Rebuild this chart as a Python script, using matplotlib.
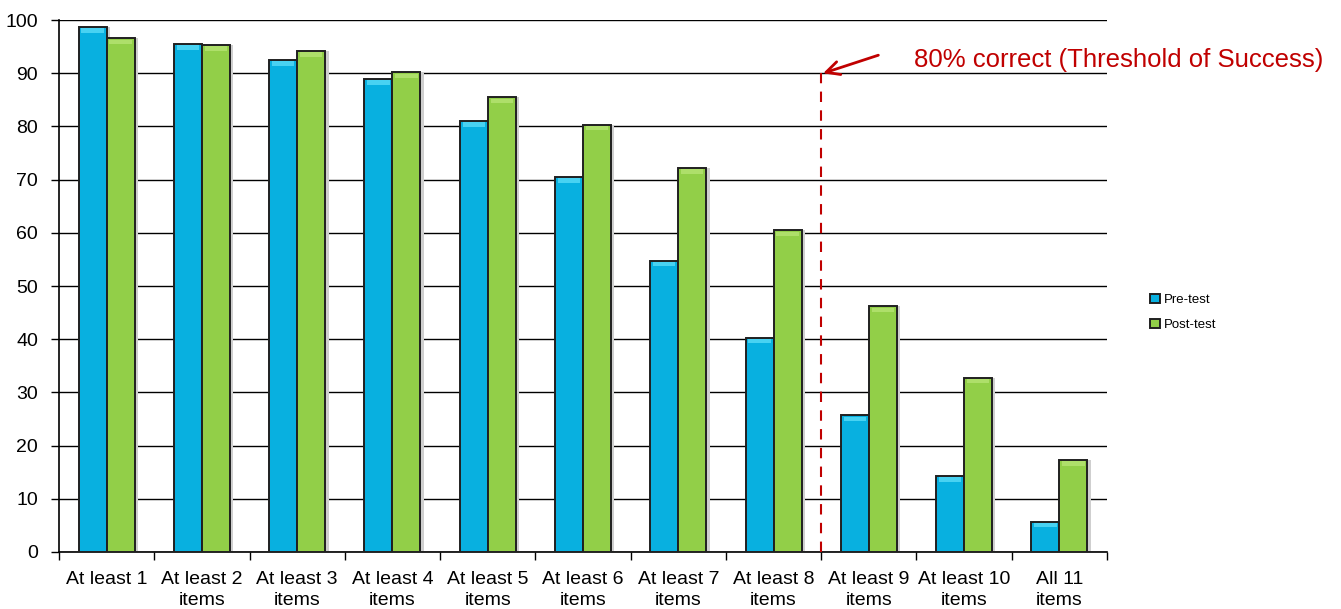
import numpy as np
import matplotlib.pyplot as plt

plt.rcParams['font.family'] = ['Liberation Sans', 'DejaVu Sans']

categories = ["At least 1", "At least 2\nitems", "At least 3\nitems", "At least 4\nitems",
              "At least 5\nitems", "At least 6\nitems", "At least 7\nitems", "At least 8\nitems",
              "At least 9\nitems", "At least 10\nitems", "All 11\nitems"]
pre_test = [98.7, 95.5, 92.5, 88.9, 81.0, 70.5, 54.8, 40.3, 25.7, 14.3, 5.7]
post_test = [96.6, 95.3, 94.2, 90.2, 85.5, 80.3, 72.2, 60.5, 46.2, 32.8, 17.3]
threshold_label = "80% correct (Threshold of Success)"

fig = plt.figure(figsize=(13.41, 6.09), dpi=100)
ax = fig.add_axes([0.044, 0.0936, 0.7815, 0.8734])

x = np.arange(len(categories))
w = 0.294
blue = "#08B0E0"
green = "#92CF48"
blue_hi = "#48D2F2"
green_hi = "#AEDF6A"

# soft drop shadow behind each bar
for vals, off in ((pre_test, -w / 2), (post_test, w / 2)):
    ax.bar(x + off + 0.035, vals, w, color="#cfcfcf", zorder=2, linewidth=0)

b1 = ax.bar(x - w / 2, pre_test, w, color=blue, edgecolor="#202020", linewidth=1.4,
            zorder=3, label="Pre-test")
b2 = ax.bar(x + w / 2, post_test, w, color=green, edgecolor="#202020", linewidth=1.4,
            zorder=3, label="Post-test")

# light bevel strip along the top of each bar
for vals, off, hi in ((pre_test, -w / 2, blue_hi), (post_test, w / 2, green_hi)):
    vals = np.array(vals)
    ax.bar(x + off, np.full(len(vals), 0.8), w * 0.8, bottom=vals - 1.05,
           color=hi, linewidth=0, zorder=4)

ax.set_ylim(0, 100)
ax.set_xlim(-0.5, len(categories) - 0.5)
ax.set_yticks(range(0, 101, 10))
ax.yaxis.grid(True, color="black", linewidth=1.0, zorder=0)
ax.set_axisbelow(True)
ax.tick_params(axis="y", labelsize=14, length=6, width=1, direction="out", pad=9)

ax.set_xticks(x)
ax.set_xticklabels(categories, fontsize=14, linespacing=1.3)
ax.tick_params(axis="x", which="major", length=0, pad=14)
ax.set_xticks(np.arange(-0.5, len(categories), 1), minor=True)
ax.tick_params(axis="x", which="minor", length=6, width=1)

for side in ("top", "right"):
    ax.spines[side].set_visible(False)
for side in ("left", "bottom"):
    ax.spines[side].set_linewidth(1.2)

# threshold marker between the 8th and 9th groups
ax.plot([7.5, 7.5], [0, 90], color="#C00000", linestyle=(0, (5, 4)), linewidth=1.5, zorder=5)
ax.annotate("", xy=(7.52, 90), xytext=(8.1, 93.4),
            arrowprops=dict(arrowstyle="->", color="#C00000", lw=2,
                            mutation_scale=24, shrinkA=0, shrinkB=0),
            annotation_clip=False)
ax.text(8.47, 92.5, threshold_label, color="#C00000", fontsize=18.5,
        va="center", ha="left", clip_on=False)

leg = ax.legend(handles=[b1, b2], loc="center left", bbox_to_anchor=(1.03, 0.45),
                frameon=False, fontsize=9.5, handlelength=0.7, handleheight=0.7,
                handletextpad=0.3, labelspacing=1.0)

fig.savefig("out.png", dpi=100)
